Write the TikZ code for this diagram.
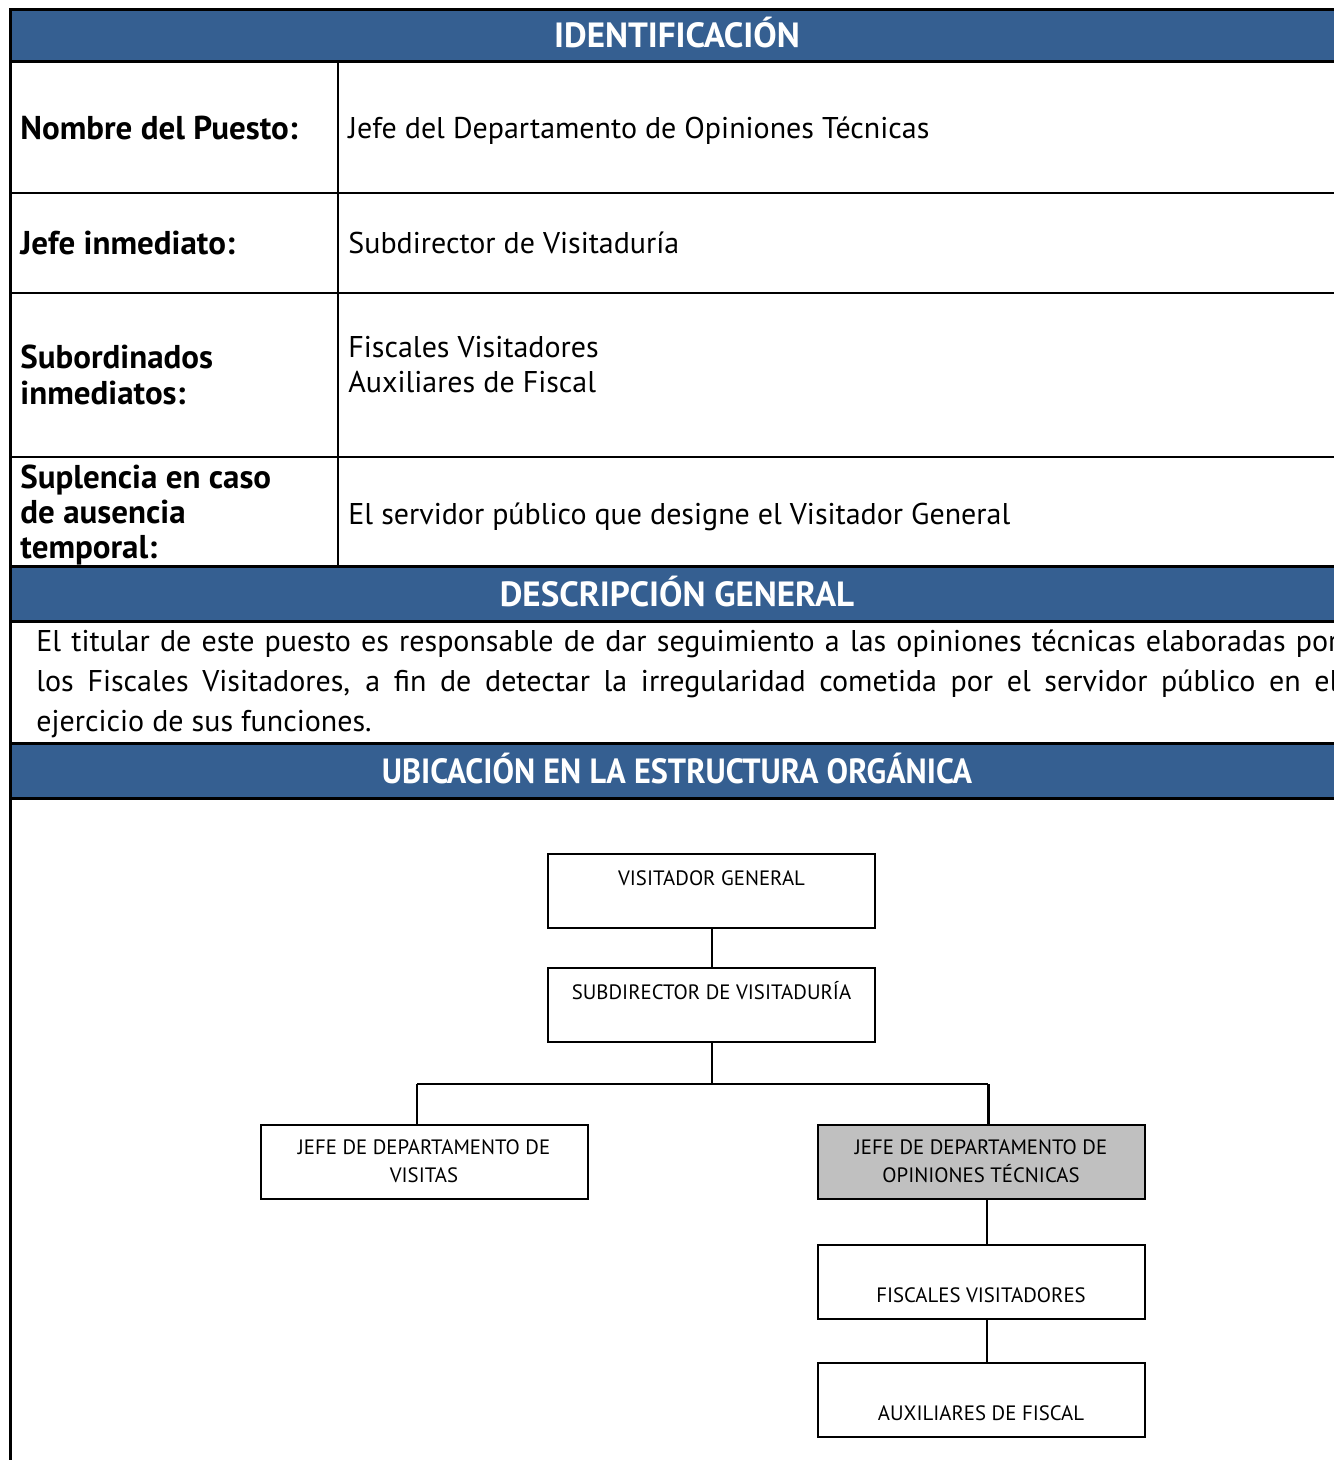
\documentclass[tikz,border=0pt]{standalone}
\usepackage{fontspec}
\setmainfont{PT Sans}
\usetikzlibrary{calc}
\definecolor{bandblue}{RGB}{53,95,145}
\definecolor{boxgray}{RGB}{192,192,192}
\begin{document}
\begin{tikzpicture}[x=0.5pt,y=-0.5pt,
  band/.style={fill=bandblue,draw=black,line width=1.5pt},
  bandtext/.style={text=white,font=\bfseries\fontsize{17.5}{20}\selectfont,anchor=base},
  label/.style={anchor=base west,font=\bfseries\fontsize{16.5}{17.5}\selectfont,align=left,inner sep=0pt},
  value/.style={anchor=base west,font=\fontsize{15}{17.5}\selectfont,align=left,inner sep=0pt},
  desc/.style={anchor=base west,font=\fontsize{15}{20}\selectfont,inner sep=0pt},
  orgbox/.style={draw=black,line width=1pt,minimum width=163.5pt,minimum height=37pt,inner sep=0pt},
  orgtext/.style={anchor=base,font=\fontsize{10.4}{14}\selectfont,align=center,inner sep=0pt},
  link/.style={draw=black,line width=1pt}]
\useasboundingbox (0,0) rectangle (1333,1460);
\fill[white] (0,0) rectangle (1333,1460);

% heading bands
\path[band] (10,10) rectangle (1345,62);
\path[band] (10,566) rectangle (1345,621);
\path[band] (10,743) rectangle (1345,798);
\node[bandtext] (h1) at (677,48) {IDENTIFICACIÓN};
\node[bandtext] (h2) at (677,606) {DESCRIPCIÓN GENERAL};
\node[bandtext] (h3) at (677,783) {\scalebox{0.92}[1]{UBICACIÓN EN LA ESTRUCTURA ORGÁNICA}};

% table rules
\draw[line width=1.5pt] (10,10) -- (10,1460);
\draw[line width=1pt] (10,193) -- (1345,193);
\draw[line width=1pt] (10,293) -- (1345,293);
\draw[line width=1pt] (10,457) -- (1345,457);
\draw[line width=1pt] (338,62) -- (338,566);

% identification rows (multi-line nodes sit on their last baseline)
\node[label] (l1) at (20,140) {Nombre del Puesto:};
\node[value] (v1) at (348,139) {Jefe del Departamento de Opiniones Técnicas};
\node[label] (l2) at (20,255) {Jefe inmediato:};
\node[value] (v2) at (348,254) {Subdirector de Visitaduría};
\node[label] (l3) at (20,404) {Subordinados\\inmediatos:};
\node[value] (v3) at (348,393) {Fiscales Visitadores\\Auxiliares de Fiscal};
\node[label] (l4) at (20,558) {Suplencia en caso\\de ausencia\\temporal:};
\node[value] (v4) at (348,524) {El servidor público que designe el Visitador General};

% general description
\node[desc] (d1) at (36,651) {\makebox[651pt][s]{El titular de este puesto es responsable de dar seguimiento a las opiniones técnicas elaboradas por}};
\node[desc] (d2) at (36,691) {\makebox[651pt][s]{los Fiscales Visitadores, a fin de detectar la irregularidad cometida por el servidor público en el}};
\node[desc] (d3) at (36,731) {ejercicio de sus funciones.};

% organisation chart
\node[orgbox] (vg) at (711.5,891) {};
\node[orgbox] (sv) at (711.5,1005) {};
\node[orgbox] (jdv) at (424,1162) {};
\node[orgbox,fill=boxgray] (jdot) at (981,1162) {};
\node[orgbox] (fv) at (981,1282) {};
\node[orgbox] (af) at (981,1400) {};

\node[orgtext] (tvg) at (711.5,885) {VISITADOR GENERAL};
\node[orgtext] (tsv) at (711.5,999) {SUBDIRECTOR DE VISITADURÍA};
\node[orgtext] (tjdv) at (424,1182) {JEFE DE DEPARTAMENTO DE\\VISITAS};
\node[orgtext] (tjdot) at (981,1182) {JEFE DE DEPARTAMENTO DE\\OPINIONES TÉCNICAS};
\node[orgtext] (tfv) at (981,1302) {FISCALES VISITADORES};
\node[orgtext] (taf) at (981,1420) {AUXILIARES DE FISCAL};

\coordinate (hub) at (711.5,1084);
\coordinate (bl) at (417,1084);
\coordinate (br) at (988,1084);
\draw[link] (vg.south) -- (sv.north);
\draw[link] (sv.south) -- (hub);
\draw[link] (bl) -- (br);
\draw[link] (bl) -- (bl |- jdv.north);
\draw[link,line width=1.5pt] (br) -- (br |- jdot.north);
\draw[link] ($(jdot.south)+(6,0)$) -- ($(fv.north)+(6,0)$);
\draw[link] ($(fv.south)+(6,0)$) -- ($(af.north)+(6,0)$);
\end{tikzpicture}
\end{document}
